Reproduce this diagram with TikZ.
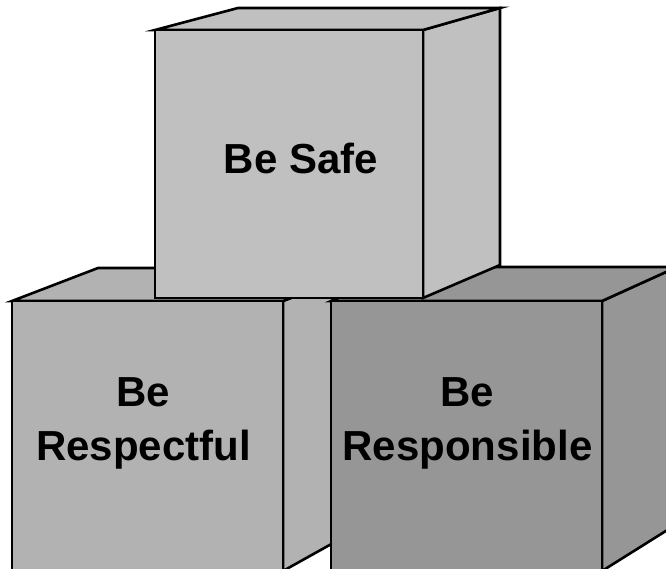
\documentclass[tikz,border=0pt]{standalone}
\usepackage{fontspec}
\setmainfont{Liberation Sans}
\definecolor{topgray}{RGB}{192,192,192}
\definecolor{leftgray}{RGB}{178,178,178}
\definecolor{rightgray}{RGB}{150,150,150}
\tikzset{
  face/.style={draw=black, line width=2.6pt, line join=miter},
  label/.style={font=\fontsize{42}{54}\selectfont\bfseries, align=center, inner sep=0pt, text=black}
}
\begin{document}
\begin{tikzpicture}[x=1pt,y=-1pt]
\useasboundingbox (0,0) rectangle (666,569);
\fill[white] (0,0) rectangle (666,569);
\clip (0,0) rectangle (666,569);
% left cube
\filldraw[face, fill=leftgray] (283,301) -- (369,268) -- (369,523) -- (283,571) -- cycle;
\filldraw[face, fill=leftgray] (12,301) -- (98,268) -- (369,268) -- (283,301) -- cycle;
\filldraw[face, fill=leftgray] (12,301) rectangle (283,590);
% right cube
\filldraw[face, fill=rightgray] (602,301) -- (677,267) -- (677,524) -- (602,571) -- cycle;
\filldraw[face, fill=rightgray] (331,301) -- (406,267) -- (677,267) -- (602,301) -- cycle;
\filldraw[face, fill=rightgray] (331,301) rectangle (602,590);
% top cube
\filldraw[face, fill=topgray] (423,30) -- (500,8) -- (500,265) -- (423,298) -- cycle;
\filldraw[face, fill=topgray] (155,30) -- (238,8) -- (500,8) -- (423,30) -- cycle;
\filldraw[face, fill=topgray] (155,30) rectangle (423,298);
% labels
\node[label, anchor=base] (safe) at (301,174) {Be Safe};
\node[label] (respectful) at (143.5,423.5) {Be\\Respectful};
\node[label] (responsible) at (467.5,423.5) {Be\\Responsible};
\end{tikzpicture}
\end{document}
